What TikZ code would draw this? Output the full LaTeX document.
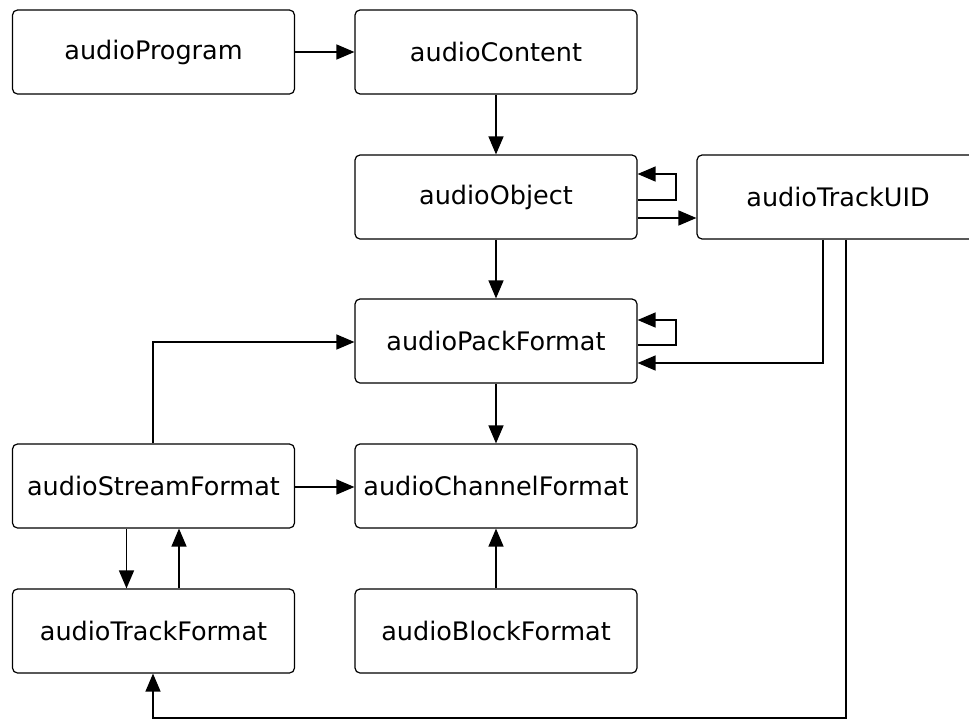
\documentclass[tikz,border=0pt]{standalone}
\usepackage{fontspec}
\setmainfont{DejaVu Sans}
\usetikzlibrary{arrows.meta}
\begin{document}
\begin{tikzpicture}[x=1pt,y=-1pt,
  box/.style={draw, line width=1.2pt, rounded corners=5pt, minimum width=282pt, minimum height=84pt, inner sep=0pt, font=\fontsize{25.5}{30}\selectfont, fill=white},
  conn/.style={line width=1.4pt, -{Triangle[length=18pt,width=15pt]}},
  plain/.style={line width=1.3pt}]
\useasboundingbox (0,0) rectangle (969,718);
\clip (0,0) rectangle (969,718);
\node[box] (prog) at (153.5,52) {audioProgram};
\node[box] (content) at (496,52) {audioContent};
\node[box] (object) at (496,197) {audioObject};
\node[box] (uid) at (838,197) {audioTrackUID};
\node[box] (pack) at (496,341) {audioPackFormat};
\node[box] (stream) at (153.5,486) {audioStreamFormat};
\node[box] (channel) at (496,486) {audioChannelFormat};
\node[box] (track) at (153.5,631) {audioTrackFormat};
\node[box] (block) at (496,631) {audioBlockFormat};
\coordinate (bot) at (846,718);
% connectors
\draw[conn] (prog.east |- 0,52) -- (content.west |- 0,52);
\draw[conn] (content) -- (object);
\draw[conn] (object.east |- 0,200) -- (676,200) -- (676,174) -- (object.east |- 0,174);
\draw[conn] (object.east |- 0,218) -- (uid.west |- 0,218);
\draw[conn] (object) -- (pack);
\draw[conn] (pack.east |- 0,345) -- (676,345) -- (676,320) -- (pack.east |- 0,320);
\draw[conn] (uid.south -| 823,0) -- (823,363) -- (pack.east |- 0,363);
\draw[conn] (stream.north -| 153,0) -- (153,342) -- (pack.west |- 0,342);
\draw[conn] (stream.east |- 0,487) -- (channel.west |- 0,487);
\draw[conn] (pack) -- (channel);
\draw[conn] (stream.south -| 126.5,0) -- (track.north -| 126.5,0);
\draw[conn] (track.north -| 179,0) -- (stream.south -| 179,0);
\draw[conn] (block) -- (channel);
\draw[conn] (uid.south -| bot) -- (bot) -- (153,718) -- (track.south -| 153,0);
\end{tikzpicture}
\end{document}
